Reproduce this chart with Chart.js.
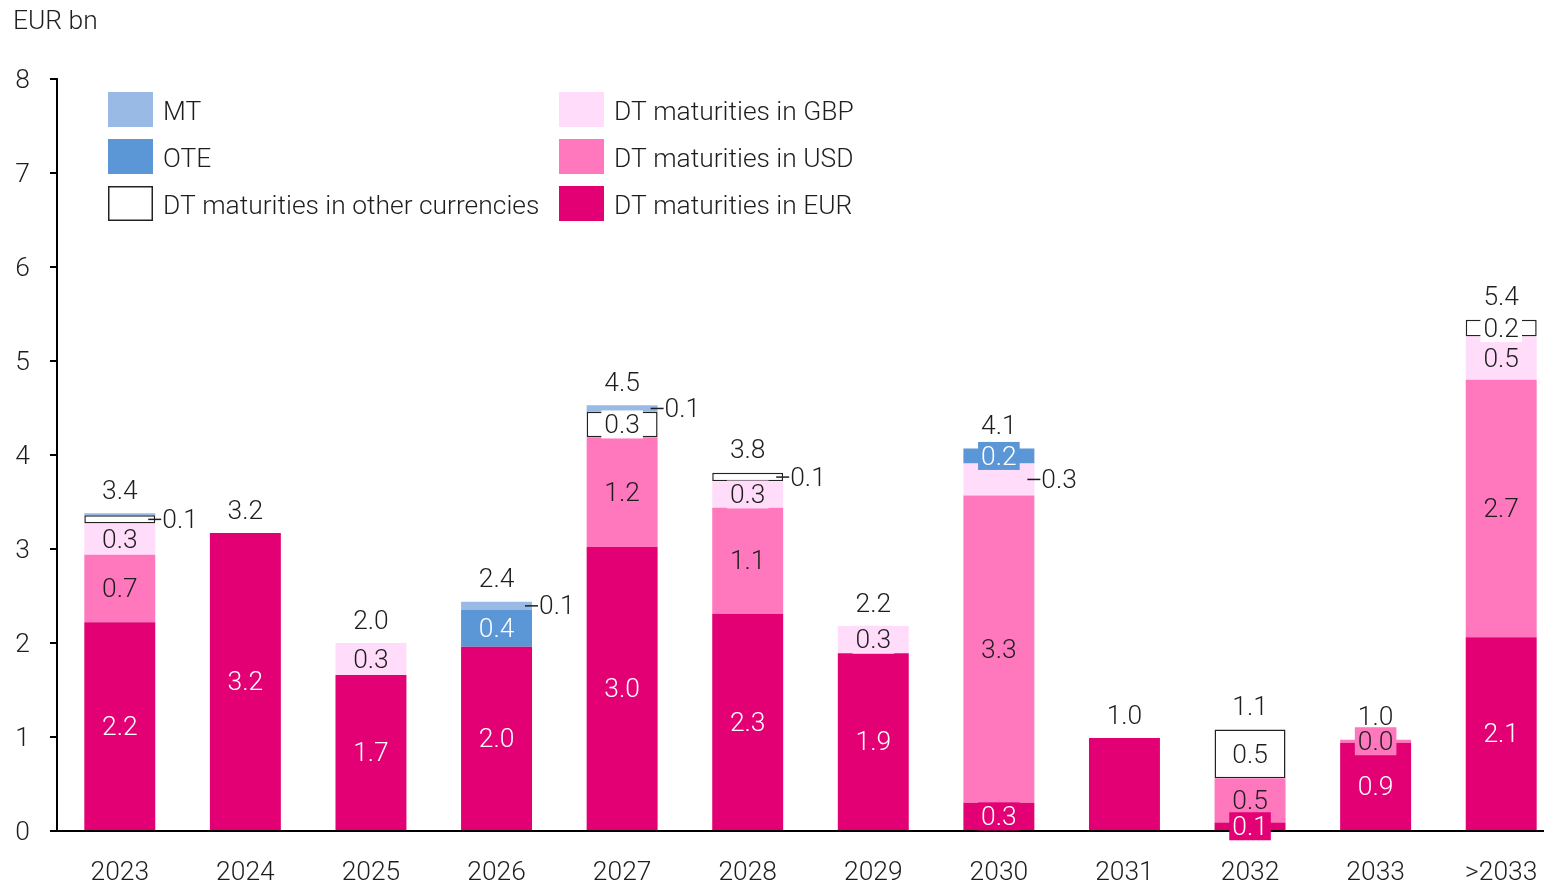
<!DOCTYPE html>
<html>
<head>
<meta charset="utf-8">
<script src="https://cdn.jsdelivr.net/npm/chart.js@4.4.0/dist/chart.umd.min.js"></script>
<style>
    html, body { margin: 0; padding: 0; background: #fff; overflow: hidden; }
    #wrap { position: relative; width: 1566px; height: 887px; }
</style>
</head>
<body>
<div id="wrap"><canvas id="maturityChart"></canvas></div>
<script>
// Maturity profile data (EUR bn)
const years = ['2023', '2024', '2025', '2026', '2027', '2028', '2029', '2030', '2031', '2032', '2033', '>2033'];
const dtEur   = [2.22, 3.17, 1.66, 1.96, 3.02, 2.31, 1.89, 0.30, 0.99, 0.09, 0.94, 2.06];
const dtUsd   = [0.72, null, null, null, 1.17, 1.13, null, 3.27, null, 0.47, 0.03, 2.74];
const dtGbp   = [0.33, null, 0.34, null, null, 0.28, 0.29, 0.34, null, null, null, 0.46];
const dtOther = [0.09, null, null, null, 0.27, 0.09, null, null, null, 0.52, null, 0.18];
const ote     = [null, null, null, 0.39, null, null, null, 0.16, null, null, null, null];
const mt      = [0.02, null, null, 0.09, 0.07, null, null, null, null, null, null, null];
const yTicks  = [0, 1, 2, 3, 4, 5, 6, 7, 8];

// labels that are left out, and labels that sit right of the bar with a leader
const hiddenLabels  = [[0, 'mt'], [8, 'eur']];
const outsideLabels = [[0, 'other'], [3, 'mt'], [4, 'mt'], [5, 'other'], [7, 'gbp']];

const FONT_FAMILY = 'Roboto, "Liberation Sans", sans-serif';
const FONT_WEIGHT = 300;
const TEXT_COLOR = '#1e1e1e';

// size the font so the longest legend entry gets its width from the picture
function fitFontSize() {
    const c = document.createElement('canvas').getContext('2d');
    c.font = FONT_WEIGHT + ' 32px ' + FONT_FAMILY;
    const w = c.measureText('DT maturities in other currencies').width;
    return Math.round(32 * 377 / w * 10) / 10;
}
const fs = fitFontSize();
const font = () => FONT_WEIGHT + ' ' + fs + 'px ' + FONT_FAMILY;

function inList(list, i, key) {
    return list.some(p => p[0] === i && p[1] === key);
}

const series = [
    { key: 'eur',   label: 'DT maturities in EUR', data: dtEur, color: '#e20074', text: '#ffffff' },
    { key: 'usd',   label: 'DT maturities in USD', data: dtUsd, color: '#ff78be', text: TEXT_COLOR },
    { key: 'gbp',   label: 'DT maturities in GBP', data: dtGbp, color: '#ffdcf9', text: TEXT_COLOR },
    { key: 'other', label: 'DT maturities in other currencies', data: dtOther, color: '#ffffff', text: TEXT_COLOR },
    { key: 'ote',   label: 'OTE', data: ote, color: '#5b96d6', text: '#ffffff' },
    { key: 'mt',    label: 'MT',  data: mt,  color: '#98bae4', text: TEXT_COLOR }
];

const totals = years.map((y, i) => series.reduce((s, d) => s + (d.data[i] || 0), 0));

// Segment values, totals, legend and unit caption
const labelPlugin = {
    id: 'segmentLabels',
    afterDatasetsDraw(chart) {
        const ctx = chart.ctx;
        ctx.save();
        ctx.font = font();
        ctx.textBaseline = 'middle';

        // top series first so the EUR labels end up on top
        for (let d = series.length - 1; d >= 0; d--) {
            const s = series[d];
            const meta = chart.getDatasetMeta(d);
            meta.data.forEach((bar, i) => {
                const v = s.data[i];
                if (v == null || inList(hiddenLabels, i, s.key)) return;
                const txt = v.toFixed(1);
                const p = bar.getProps(['x', 'y', 'base', 'width'], true);
                const cy = (p.y + p.base) / 2;
                if (inList(outsideLabels, i, s.key)) {
                    const right = p.x + p.width / 2;
                    ctx.strokeStyle = TEXT_COLOR;
                    ctx.lineWidth = 1.5;
                    ctx.beginPath();
                    ctx.moveTo(right - 7, cy);
                    ctx.lineTo(right + 6, cy);
                    ctx.stroke();
                    ctx.fillStyle = TEXT_COLOR;
                    ctx.textAlign = 'left';
                    ctx.fillText(txt, right + 7, cy + 2);
                } else {
                    const tw = ctx.measureText(txt).width;
                    ctx.fillStyle = s.color;
                    ctx.fillRect(p.x - tw / 2 - 3, cy - 14, tw + 6, 28);
                    ctx.fillStyle = s.text;
                    ctx.textAlign = 'center';
                    ctx.fillText(txt, p.x, cy + 2);
                }
            });
        }

        // totals above bars
        const yScale = chart.scales.y;
        const xScale = chart.scales.x;
        ctx.fillStyle = TEXT_COLOR;
        ctx.textAlign = 'center';
        totals.forEach((t, i) => {
            ctx.fillText(t.toFixed(1), xScale.getPixelForValue(i), yScale.getPixelForValue(t) - 21);
        });

        // legend, two columns
        const legendCols = [['mt', 'ote', 'other'], ['gbp', 'usd', 'eur']];
        const colX = [108, 559];
        const rowY = [92, 139, 186];
        ctx.textAlign = 'left';
        legendCols.forEach((col, c) => {
            col.forEach((key, r) => {
                const s = series.find(x => x.key === key);
                ctx.fillStyle = s.color;
                ctx.fillRect(colX[c], rowY[r], 45, 35);
                if (key === 'other') {
                    ctx.strokeStyle = '#222';
                    ctx.lineWidth = 1.5;
                    ctx.strokeRect(colX[c] + 0.75, rowY[r] + 0.75, 43.5, 33.5);
                }
                ctx.fillStyle = TEXT_COLOR;
                ctx.fillText(s.label, colX[c] + 55, rowY[r] + 21);
            });
        });

        // unit caption
        ctx.fillText('EUR bn', 13, 22);
        ctx.restore();
    }
};

document.addEventListener('DOMContentLoaded', function() {
    const ctx = document.getElementById('maturityChart');

    new Chart(ctx, {
        type: 'bar',
        data: {
            labels: years,
            datasets: series.map(s => ({
                label: s.label,
                data: s.data,
                backgroundColor: s.color,
                borderColor: s.key === 'other' ? '#222' : s.color,
                borderWidth: s.key === 'other' ? 1.5 : 0,
                borderSkipped: false,
                categoryPercentage: 1,
                barPercentage: 0.565
            }))
        },
        options: {
            responsive: true,
            maintainAspectRatio: false,
            animation: false,
            layout: {
                padding: { top: 79, right: 2, left: 0, bottom: 0 }
            },
            plugins: {
                legend: { display: false },
                tooltip: { enabled: false }
            },
            scales: {
                x: {
                    stacked: true,
                    grid: { display: false },
                    border: { display: true, color: '#000', width: 2 },
                    ticks: {
                        color: TEXT_COLOR,
                        font: { family: FONT_FAMILY, size: fs, weight: FONT_WEIGHT },
                        padding: 19,
                        maxRotation: 0,
                        autoSkip: false
                    },
                    afterFit: function(scale) { scale.height = 56; }
                },
                y: {
                    stacked: true,
                    min: 0,
                    max: 8,
                    afterBuildTicks: function(scale) {
                        scale.ticks = yTicks.map(v => ({ value: v }));
                    },
                    grid: {
                        drawOnChartArea: false,
                        drawTicks: true,
                        tickLength: 7,
                        color: '#000',
                        lineWidth: 2
                    },
                    border: { display: true, color: '#000', width: 2 },
                    ticks: {
                        color: TEXT_COLOR,
                        font: { family: FONT_FAMILY, size: fs, weight: FONT_WEIGHT },
                        padding: 20,
                        labelOffset: 2
                    },
                    afterFit: function(scale) { scale.width = 57; }
                }
            }
        },
        plugins: [labelPlugin]
    });
});
</script>
</body>
</html>
